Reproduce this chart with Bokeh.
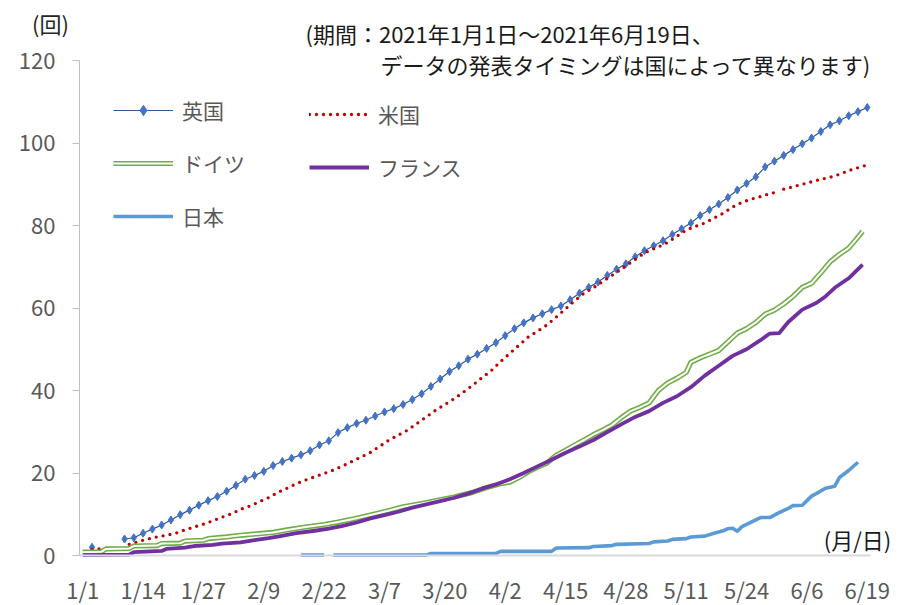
import numpy as np
from bokeh.plotting import figure
from bokeh.models import ColumnDataSource, FixedTicker, Legend, LegendItem, Label, Range1d
from bokeh.embed import file_html
from bokeh.resources import INLINE

FONT = "Noto Sans CJK JP"

# x positions are days counted from 2021-01-01
x_tick_days = [0, 13, 26, 39, 52, 65, 78, 91, 104, 117, 130, 143, 156, 169]
x_tick_labels = ["1/1", "1/14", "1/27", "2/9", "2/22", "3/7", "3/20", "4/2",
                 "4/15", "4/28", "5/11", "5/24", "6/6", "6/19"]
y_ticks = [0, 20, 40, 60, 80, 100, 120]

series_names = ["英国", "米国", "ドイツ", "フランス", "日本"]

# 英国 (None = no data)
uk_days = [2, 5, 9, 11, 13, 15, 17, 19, 21, 23, 25, 27, 29, 31, 33, 35, 37, 39, 41, 43, 45, 47, 49,
           51, 53, 55, 57, 59, 61, 63, 65, 67, 69, 71, 73, 75, 77, 79, 81, 83, 85, 87, 89,
           91, 93, 95, 97, 99, 101, 103, 105, 107, 109, 111, 113, 115, 117, 119, 121, 123, 125,
           127, 129, 131, 133, 135, 137, 139, 141, 143, 145, 147, 149, 151, 153, 155, 157, 159,
           161, 163, 165, 167, 169]
uk_vals = [2.0, None, 4.0, 4.3, 5.4, 6.4, 7.4, 8.6, 9.9, 11.0, 12.2, 13.3, 14.3, 15.6, 17.0, 18.5,
           19.4, 20.4, 21.8, 22.8, 23.6, 24.4, 25.4, 26.8, 27.8, 29.8, 31.0, 32.0, 32.8, 33.8,
           34.8, 35.6, 36.6, 37.8, 39.2, 41.0, 42.8, 44.6, 46.0, 47.6, 48.8, 50.2, 51.6, 53.3,
           55.0, 56.4, 57.6, 58.6, 59.6, 60.5, 62.0, 63.6, 65.0, 66.3, 67.9, 69.4, 70.7, 72.4,
           73.9, 75.1, 76.3, 77.8, 79.2, 80.6, 82.4, 83.8, 85.2, 86.8, 88.6, 90.2, 91.8, 94.2,
           95.6, 97.0, 98.4, 99.8, 101.2, 102.8, 104.4, 105.4, 106.6, 107.6, 108.6]

# 米国
us_days = [2, 4, 6, 8, 10, 12, 14, 16, 18, 20, 22, 24, 26, 28, 30, 32, 34, 36, 38, 40, 42, 44, 46,
           48, 50, 52, 54, 56, 58, 60, 62, 64, 66, 68, 70, 72, 74, 76, 78, 80, 82, 84, 86, 88,
           90, 92, 94, 96, 98, 100, 102, 104, 106, 108, 110, 112, 114, 116, 118, 120, 122, 124,
           126, 128, 130, 132, 134, 136, 138, 140, 142, 144, 146, 148, 149, 150, 151, 153, 155,
           157, 159, 161, 163, 165, 167, 169]
us_vals = [1.5, 1.6, 1.8, None, 2.7, 3.4, 4.0, 4.5, 4.9, 5.4, 6.2, 6.9, 7.6, 8.4, 9.3, 10.1, 11.2,
           12.0, 13.0, 14.0, 15.3, 16.3, 17.4, 18.3, 19.1, 19.9, 20.7, 21.7, 22.8, 23.9, 25.0,
           26.5, 28.0, 29.2, 30.4, 32.0, 33.6, 35.2, 36.6, 38.0, 39.6, 41.3, 43.1, 44.8, 47.0,
           49.0, 51.0, 53.0, 54.4, 55.9, 57.8, 59.8, 61.8, 63.6, 64.9, 66.4, 67.9, 69.4, 71.0,
           72.6, 73.9, 74.8, 75.9, 77.4, 78.9, 79.8, 80.6, 81.8, 83.0, 84.5, 85.6, 86.4, 87.0,
           87.7, 88.0, None, 88.8, 89.4, 90.0, 90.6, 91.2, 91.7, 92.4, 93.3, 94.0, 94.7]

# ドイツ
de_days = [0, 4, 5, 10, 11, 16, 17, 21, 22, 26, 27, 31, 34, 38, 41, 44, 48, 52, 55, 58, 62, 66,
           69, 73, 77, 80, 84, 87, 90, 92, 94, 96, 98, 100, 102, 104, 106, 108, 110, 112, 114,
           116, 118, 120, 122, 124, 126, 128, 130, 131, 133, 135, 137, 139, 141, 143, 145, 147,
           149, 151, 153, 155, 157, 159, 161, 163, 165, 167, 168]
de_vals = [0.8, 0.9, 1.6, 1.7, 2.3, 2.4, 2.9, 3.0, 3.5, 3.7, 4.1, 4.5, 4.9, 5.3, 5.6, 6.2, 6.9,
           7.5, 8.1, 8.8, 9.8, 10.9, 11.8, 12.6, 13.5, 14.2, 15.3, 16.5, 17.4, 17.8, 18.9, 20.3,
           21.4, 22.4, 24.3, 25.5, 26.8, 28.0, 29.3, 30.4, 31.6, 33.4, 35.0, 35.9, 37.0, 40.0,
           41.8, 43.0, 44.4, 46.8, 47.9, 48.8, 49.7, 51.8, 53.9, 55.0, 56.5, 58.5, 59.5, 61.0,
           62.8, 65.0, 66.0, 68.5, 71.2, 73.0, 74.5, 77.2, 78.6]

# フランス
fr_days = [0, 10, 11, 17, 18, 22, 24, 28, 30, 34, 37, 40, 42, 46, 50, 53, 56, 59, 62, 65, 68, 71,
           74, 77, 80, 83, 86, 89, 92, 95, 98, 101, 104, 107, 110, 113, 116, 119, 122, 125, 128,
           131, 134, 137, 140, 143, 146, 148, 150, 152, 155, 158, 160, 162, 165, 168]
fr_vals = [0.1, 0.2, 0.8, 1.1, 1.6, 1.9, 2.3, 2.6, 2.9, 3.2, 3.7, 4.2, 4.6, 5.4, 6.0, 6.5, 7.2,
           8.0, 9.0, 9.8, 10.6, 11.6, 12.4, 13.2, 14.0, 15.0, 16.2, 17.2, 18.5, 20.0, 21.6, 23.2,
           24.9, 26.4, 28.0, 29.9, 31.8, 33.6, 35.0, 37.0, 38.6, 40.8, 43.6, 46.0, 48.4, 50.0,
           52.2, 53.8, 53.9, 56.6, 59.6, 61.2, 62.8, 64.9, 67.2, 70.5]

# 日本
jp_days = [47, 52, 53, 54, 74, 75, 89, 90, 101, 102, 109, 110, 114, 115, 122, 123, 126, 127, 130,
           131, 134, 136, 138, 139, 140, 141, 142, 144, 146, 148, 150, 152, 153, 155, 157, 158,
           160, 162, 163, 165, 167]
jp_vals = [0.1, 0.1, None, 0.1, 0.1, 0.5, 0.5, 1.0, 1.0, 1.8, 1.9, 2.2, 2.4, 2.7, 2.9, 3.3, 3.5,
           3.9, 4.1, 4.5, 4.7, 5.4, 6.0, 6.5, 6.6, 5.9, 7.0, 8.1, 9.2, 9.2, 10.4, 11.4, 12.1, 12.2,
           14.4, 15.0, 16.3, 16.8, 18.9, 20.6, 22.6]


def src(days, vals):
    return ColumnDataSource(dict(x=np.array(days, dtype=float), y=np.array(vals, dtype=float)))


W, H = 903, 605
# plot area (frame of the axes) in page pixels
AX_L, AX_R, AX_T, AX_B = 79, 870, 60, 555
X0, X1 = -0.7, 169.7
Y0, Y1 = 0, 120
kx = (AX_R - AX_L) / (X1 - X0)
ky = (AX_B - AX_T) / (Y1 - Y0)

p = figure(width=W, height=H,
           x_range=Range1d(X0 - AX_L / kx, X1 + (W - AX_R) / kx),
           y_range=Range1d(Y0 - (H - AX_B) / ky, Y1 + AX_T / ky),
           output_backend="svg", toolbar_location=None,
           min_border_left=0, min_border_right=0, min_border_top=0, min_border_bottom=0)
p.outline_line_color = None
p.grid.visible = False
p.background_fill_color = "white"
p.border_fill_color = "white"

p.xaxis.fixed_location = Y0
p.xaxis.bounds = (X0, X1)
p.xaxis.ticker = FixedTicker(ticks=x_tick_days)
p.xaxis.major_label_overrides = {d: l for d, l in zip(x_tick_days, x_tick_labels)}
p.xaxis.major_tick_out = 0
p.xaxis.major_tick_in = 0
p.xaxis.minor_tick_out = 0
p.xaxis.minor_tick_in = 0
p.xaxis.axis_line_color = "#D9D9D9"
p.xaxis.axis_line_width = 2
p.xaxis.major_label_standoff = 17

p.yaxis.fixed_location = X0
p.yaxis.bounds = (Y0, Y1)
p.yaxis.ticker = FixedTicker(ticks=y_ticks)
p.yaxis.major_tick_out = 7
p.yaxis.major_tick_in = 0
p.yaxis.minor_tick_out = 0
p.yaxis.minor_tick_in = 0
p.yaxis.axis_line_color = "#BFBFBF"
p.yaxis.major_tick_line_color = "#BFBFBF"
p.yaxis.major_label_standoff = 17

for ax in (p.xaxis, p.yaxis):
    ax.major_label_text_font = FONT
    ax.major_label_text_font_size = "22px"
    ax.major_label_text_color = "#595959"

s_uk, s_us, s_de, s_fr, s_jp = (src(uk_days, uk_vals), src(us_days, us_vals), src(de_days, de_vals),
                                src(fr_days, fr_vals), src(jp_days, jp_vals))

uk_line = p.line("x", "y", source=s_uk, line_color="#2F5597", line_width=1.2)
uk_pts = p.scatter("x", "y", source=s_uk, marker="diamond", size=8,
                   fill_color="#4472C4", line_color="#4472C4", line_width=1)
us_line = p.line("x", "y", source=s_us, line_color="#C00000", line_width=3.3,
                 line_dash="0 7", line_cap="round")
de_outer = p.line("x", "y", source=s_de, line_color="#70AD47", line_width=5.2, line_join="round")
de_inner = p.line("x", "y", source=s_de, line_color="white", line_width=2.0, line_join="round")
fr_line = p.line("x", "y", source=s_fr, line_color="#7030A0", line_width=3.8, line_join="round")
jp_line = p.line("x", "y", source=s_jp, line_color="#5B9BD5", line_width=3.6, line_join="round")

leg_style = dict(padding=0, margin=0, spacing=23, glyph_width=60, glyph_height=26,
                 label_height=26, label_standoff=9, border_line_color=None,
                 background_fill_alpha=0, label_text_font=FONT, label_text_font_size="21px",
                 label_text_color="#595959")
leg1 = Legend(items=[LegendItem(label=series_names[0], renderers=[uk_line, uk_pts]),
                     LegendItem(label=series_names[2], renderers=[de_outer, de_inner]),
                     LegendItem(label=series_names[4], renderers=[jp_line])],
              location=(113, H - 231), **leg_style)
leg2 = Legend(items=[LegendItem(label=series_names[1], renderers=[us_line]),
                     LegendItem(label=series_names[3], renderers=[fr_line])],
              location=(309, H - 182), **leg_style)
p.add_layout(leg1)
p.add_layout(leg2)

txt = dict(x_units="screen", y_units="screen", text_font=FONT, text_font_size="22px",
           text_baseline="middle")
p.add_layout(Label(x=50, y=H - 22, text="(回)", text_align="center", text_color="#262626", **txt))
p.add_layout(Label(x=305, y=H - 32, text="(期間：2021年1月1日～2021年6月19日、",
                   text_align="left", text_color="#1a1a1a", **txt))
p.add_layout(Label(x=380, y=H - 63, text="データの発表タイミングは国によって異なります)",
                   text_align="left", text_color="#1a1a1a", **txt))
p.add_layout(Label(x=857, y=H - 538, text="(月/日)", text_align="center", text_color="#1a1a1a", **txt))

open("out.html", "w").write(file_html(p, INLINE))
